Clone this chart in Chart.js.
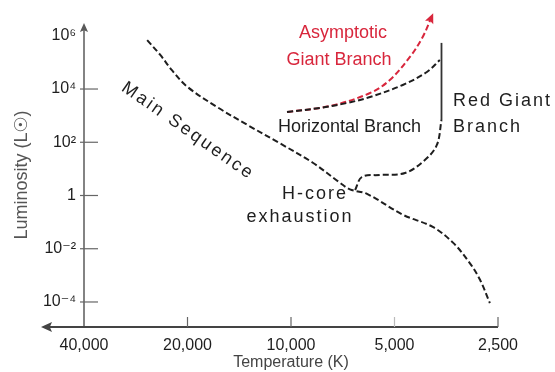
<!DOCTYPE html>
<html>
<head>
<meta charset="utf-8">
<script src="https://cdn.jsdelivr.net/npm/chart.js@4.4.1/dist/chart.umd.min.js"></script>
<style>
  html, body { margin: 0; padding: 0; background: #fff; }
  #wrap { width: 555px; height: 372px; }
</style>
</head>
<body>
<div id="wrap"><canvas id="hr" width="555" height="372"></canvas></div>
<script>
// Axis ticks
const tempTicks = [40000, 20000, 10000, 5000, 2500];
const lumTicks = [1e-4, 1e-2, 1, 1e2, 1e4, 1e6];
const lumTickLabels = ['10⁻⁴', '10⁻²', '1', '10²', '10⁴', '10⁶'];

// Main sequence (temperature in K, luminosity in solar units)
const msTemp = [26200, 24000, 22200, 20000, 16400, 13400, 10800, 8640, 7200, 6740, 6010, 4730, 3870, 3380, 3020, 2820, 2640];
const msLum  = [6.9e5, 1.9e5, 5.1e4, 1.2e4, 2100, 450, 93, 17, 3.0, 1.7, 1.15, 0.19, 0.066, 0.017, 0.0029, 6.8e-4, 9.1e-5];

// Subgiant / red giant branch after H-core exhaustion
const rgbTemp = [6510, 6220, 5520, 4660, 4080, 3765, 3650];
const rgbLum  = [1.6, 4.95, 5.9, 7.0, 21.5, 79, 685];
const rgbTipTemp = [3650, 3650];
const rgbTipLum  = [685, 5.4e5];

// Horizontal branch
const hbTemp = [10270, 8240, 6870, 5890, 4730, 4025, 3690];
const hbLum  = [1370, 1940, 2990, 5000, 1.42e4, 4.36e4, 1.23e5];

// Asymptotic giant branch
const agbTemp = [10270, 7700, 5890, 5160, 4510, 4140, 3890];
const agbLum  = [1370, 2300, 7080, 2.18e4, 1.6e5, 9.0e5, 5.5e6];

const INK = '#1e1e1e';
const RED = '#d8263c';
const FONT = '"Liberation Sans", Arial, "DejaVu Sans", sans-serif';

const pts = (xs, ys) => xs.map((t, i) => ({ x: t, y: ys[i] }));

function track(xs, ys, color, dashed, extra) {
  return Object.assign({
    data: pts(xs, ys),
    borderColor: color,
    borderWidth: 2,
    borderDash: dashed ? [6, 3] : [],
    pointRadius: 0,
    fill: false,
    tension: 0.35
  }, extra || {});
}

function arrowHead(ctx, x, y, ang, size, color) {
  ctx.save();
  ctx.translate(x, y);
  ctx.rotate(ang);
  ctx.fillStyle = color;
  ctx.beginPath();
  ctx.moveTo(0, 0);
  ctx.lineTo(-size, -size * 0.45);
  ctx.lineTo(-size * 0.8, 0);
  ctx.lineTo(-size, size * 0.45);
  ctx.closePath();
  ctx.fill();
  ctx.restore();
}

// Axis lines with arrows and inward tick marks
const axisDecor = {
  id: 'axisDecor',
  beforeDatasetsDraw(chart) {
    const { ctx, chartArea: a, scales: { x, y } } = chart;
    ctx.save();
    ctx.strokeStyle = '#5a5a5a';
    ctx.lineWidth = 1.5;
    ctx.beginPath();
    ctx.moveTo(a.left, a.bottom);
    ctx.lineTo(a.left, a.top + 4);
    ctx.stroke();
    arrowHead(ctx, a.left, a.top, -Math.PI / 2, 9, '#5a5a5a');

    ctx.strokeStyle = '#444';
    ctx.lineWidth = 2.2;
    ctx.beginPath();
    ctx.moveTo(a.right, a.bottom);
    ctx.lineTo(48, a.bottom);
    ctx.stroke();
    arrowHead(ctx, 41, a.bottom, Math.PI, 11, '#444');

    ctx.lineWidth = 1.2;
    ctx.strokeStyle = '#666';
    lumTicks.forEach(v => {
      if (v >= 1e6) return;
      const py = y.getPixelForValue(v);
      ctx.beginPath();
      ctx.moveTo(a.left - 4, py);
      ctx.lineTo(a.left + 14, py);
      ctx.stroke();
    });
    tempTicks.forEach(v => {
      if (v >= 40000) return;
      const px = x.getPixelForValue(v);
      ctx.strokeStyle = v === 5000 ? '#bbb' : '#666';
      ctx.beginPath();
      ctx.moveTo(px, a.bottom);
      ctx.lineTo(px, a.bottom - 10);
      ctx.stroke();
    });
    ctx.restore();
  }
};

// Labels for the evolutionary phases
const phaseLabels = {
  id: 'phaseLabels',
  afterDatasetsDraw(chart) {
    const { ctx } = chart;
    ctx.save();
    ctx.font = '18px ' + FONT;
    ctx.textBaseline = 'middle';

    ctx.fillStyle = RED;
    ctx.textAlign = 'center';
    ctx.fillText('Asymptotic', 343, 33);
    ctx.fillText('Giant Branch', 339, 60);

    ctx.fillStyle = INK;
    ctx.textAlign = 'left';
    ctx.fillText('Horizontal Branch', 278, 127);

    ctx.letterSpacing = '2px';
    ctx.fillText('Red Giant', 453, 101);
    ctx.fillText('Branch', 453, 127);
    ctx.textAlign = 'center';
    ctx.fillText('H-core', 315, 194);
    ctx.fillText('exhaustion', 300, 217);

    ctx.save();
    ctx.translate(188, 131);
    ctx.rotate(35 * Math.PI / 180);
    ctx.letterSpacing = '2.5px';
    ctx.fillText('Main Sequence', 0, 0);
    ctx.restore();

    // arrow at the end of the AGB track
    const d = chart.getDatasetMeta(4).data;
    const p1 = d[d.length - 2], p2 = d[d.length - 1];
    const ang = Math.atan2(p2.y - p1.y, p2.x - p1.x);
    arrowHead(ctx, p2.x + Math.cos(ang) * 3, p2.y + Math.sin(ang) * 3, ang, 10, RED);
    ctx.restore();
  }
};

new Chart(document.getElementById('hr'), {
  type: 'line',
  data: {
    datasets: [
      track(msTemp, msLum, INK, true),
      track(rgbTemp, rgbLum, INK, true),
      track(rgbTipTemp, rgbTipLum, '#333', false, { tension: 0, borderWidth: 1.8 }),
      track(hbTemp, hbLum, INK, true),
      track(agbTemp, agbLum, RED, true, { clip: false })
    ]
  },
  options: {
    responsive: false,
    animation: false,
    events: [],
    layout: { padding: { left: 0, right: 57, top: 23, bottom: 0 } },
    plugins: { legend: { display: false }, tooltip: { enabled: false } },
    scales: {
      x: {
        type: 'logarithmic',
        reverse: true,
        min: 2500,
        max: 40000,
        afterBuildTicks: s => { s.ticks = tempTicks.map(v => ({ value: v })); },
        afterFit: s => { s.height = 45; },
        grid: { display: false, drawTicks: false },
        border: { display: false },
        ticks: {
          autoSkip: false,
          maxRotation: 0,
          padding: 9,
          color: INK,
          font: { family: FONT, size: 16 },
          callback: v => Number(v).toLocaleString('en-US')
        },
        title: {
          display: true,
          text: 'Temperature (K)',
          color: '#444',
          font: { family: FONT, size: 16 },
          padding: { top: 0, bottom: 0 }
        }
      },
      y: {
        type: 'logarithmic',
        min: Math.pow(10, -4.94),
        max: Math.pow(10, 6.48),
        afterBuildTicks: s => { s.ticks = lumTicks.map(v => ({ value: v })); },
        afterFit: s => { s.width = 84; },
        grid: { display: false, drawTicks: false },
        border: { display: false },
        ticks: {
          autoSkip: false,
          padding: 8,
          color: INK,
          font: { family: FONT, size: 16 },
          callback: v => lumTickLabels[lumTicks.findIndex(t => Math.abs(Math.log10(t) - Math.log10(v)) < 1e-6)]
        },
        title: {
          display: true,
          text: 'Luminosity (L☉)',
          color: '#555',
          font: { family: FONT, size: 18 },
          padding: { top: 11, bottom: 0 }
        }
      }
    }
  },
  plugins: [axisDecor, phaseLabels]
});
</script>
</body>
</html>
